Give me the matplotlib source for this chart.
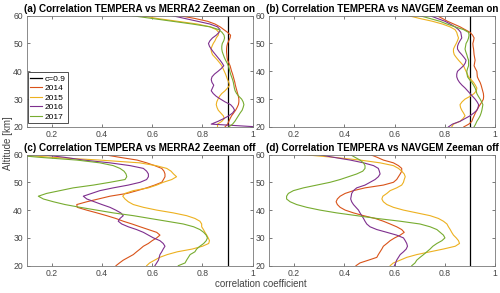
import numpy as np
import matplotlib
matplotlib.use("Agg")
import matplotlib.pyplot as plt

plt.rcParams['font.family'] = ['Liberation Sans', 'DejaVu Sans']

altitude = list(range(60, 19, -1))  # km, 60 -> 20
years = ['2014', '2015', '2016', '2017']
colors = ['#D95319', '#EDB120', '#7E2F8E', '#77AC30']
threshold = 0.9

# (a) TEMPERA vs MERRA2, Zeeman on
a_2014 = [0.71,0.77,0.82,0.85,0.87,0.885,0.90,0.912,0.91,0.905,0.90,0.897,0.896,0.896,0.897,0.898,0.90,0.905,0.91,0.913,0.916,0.92,0.923,0.926,0.929,0.931,0.934,0.937,0.940,0.943,0.945,0.945,0.943,0.938,0.932,0.924,0.916,0.91,0.905,0.90,0.89]
a_2015 = [0.56,0.62,0.70,0.78,0.83,0.855,0.865,0.863,0.855,0.85,0.843,0.838,0.834,0.836,0.84,0.85,0.86,0.869,0.877,0.882,0.887,0.892,0.896,0.90,0.905,0.908,0.90,0.89,0.877,0.868,0.862,0.857,0.855,0.858,0.863,0.873,0.883,0.887,0.877,0.86,0.86]
a_2016 = [0.68,0.73,0.78,0.83,0.86,0.87,0.866,0.855,0.84,0.83,0.824,0.828,0.835,0.843,0.852,0.861,0.870,0.878,0.885,0.875,0.862,0.848,0.838,0.835,0.838,0.845,0.84,0.835,0.843,0.855,0.872,0.89,0.912,0.922,0.928,0.92,0.905,0.885,0.862,0.835,1.02]
a_2017 = [0.52,0.60,0.68,0.76,0.83,0.865,0.878,0.886,0.888,0.885,0.879,0.877,0.877,0.879,0.883,0.887,0.892,0.898,0.903,0.906,0.909,0.912,0.916,0.92,0.923,0.925,0.927,0.93,0.936,0.945,0.956,0.962,0.965,0.962,0.958,0.95,0.943,0.936,0.929,0.92,0.905]

# (b) TEMPERA vs NAVGEM, Zeeman on
b_2014 = [0.768,0.79,0.81,0.835,0.86,0.88,0.90,0.91,0.916,0.914,0.911,0.912,0.914,0.915,0.916,0.918,0.92,0.918,0.916,0.921,0.927,0.928,0.929,0.934,0.94,0.944,0.947,0.95,0.953,0.954,0.953,0.947,0.94,0.933,0.927,0.921,0.916,0.911,0.907,0.895,0.875]
b_2015 = [0.655,0.70,0.75,0.79,0.82,0.84,0.847,0.85,0.854,0.85,0.845,0.839,0.834,0.834,0.837,0.845,0.854,0.864,0.874,0.879,0.884,0.889,0.894,0.904,0.914,0.921,0.927,0.925,0.916,0.90,0.88,0.868,0.86,0.862,0.867,0.874,0.88,0.872,0.86,0.834,0.827]
b_2016 = [0.741,0.77,0.80,0.821,0.84,0.854,0.863,0.865,0.867,0.86,0.854,0.85,0.85,0.857,0.867,0.876,0.884,0.881,0.874,0.862,0.85,0.847,0.847,0.851,0.858,0.868,0.88,0.89,0.90,0.91,0.92,0.928,0.934,0.932,0.927,0.915,0.90,0.88,0.86,0.83,0.814]
b_2017 = [0.70,0.74,0.78,0.808,0.84,0.874,0.894,0.896,0.894,0.89,0.884,0.882,0.88,0.883,0.887,0.89,0.894,0.894,0.894,0.89,0.887,0.888,0.89,0.898,0.907,0.914,0.92,0.924,0.927,0.933,0.94,0.946,0.951,0.949,0.947,0.944,0.94,0.934,0.927,0.922,0.916]

# (c) TEMPERA vs MERRA2, Zeeman off
c_2014 = [0.405,0.47,0.54,0.578,0.61,0.638,0.647,0.651,0.651,0.645,0.638,0.61,0.578,0.54,0.50,0.432,0.386,0.34,0.30,0.302,0.339,0.38,0.419,0.455,0.485,0.52,0.552,0.585,0.618,0.631,0.618,0.60,0.585,0.565,0.552,0.538,0.525,0.505,0.485,0.47,0.456]
c_2015 = [0.05,0.20,0.39,0.55,0.615,0.658,0.675,0.685,0.697,0.678,0.644,0.618,0.585,0.525,0.492,0.483,0.492,0.505,0.525,0.565,0.618,0.684,0.737,0.77,0.79,0.797,0.797,0.804,0.81,0.817,0.823,0.828,0.825,0.80,0.76,0.70,0.66,0.63,0.61,0.59,0.578]
c_2016 = [0.154,0.25,0.326,0.432,0.512,0.565,0.578,0.585,0.585,0.578,0.552,0.505,0.445,0.392,0.359,0.326,0.34,0.37,0.40,0.432,0.455,0.475,0.485,0.472,0.465,0.479,0.505,0.538,0.565,0.585,0.605,0.631,0.644,0.651,0.644,0.638,0.631,0.628,0.625,0.618,0.611]
c_2017 = [0.03,0.15,0.30,0.392,0.445,0.472,0.488,0.496,0.499,0.492,0.432,0.366,0.286,0.233,0.18,0.147,0.167,0.207,0.253,0.313,0.379,0.445,0.525,0.591,0.658,0.724,0.765,0.79,0.805,0.815,0.82,0.815,0.805,0.79,0.777,0.77,0.751,0.744,0.737,0.731,0.704]

# (d) TEMPERA vs NAVGEM, Zeeman off
d_2014 = [0.502,0.53,0.555,0.595,0.615,0.628,0.628,0.622,0.615,0.608,0.595,0.555,0.482,0.436,0.403,0.383,0.372,0.367,0.372,0.383,0.403,0.436,0.476,0.522,0.555,0.582,0.608,0.628,0.638,0.622,0.60,0.582,0.569,0.555,0.549,0.542,0.535,0.529,0.496,0.462,0.446]
d_2015 = [0.23,0.356,0.462,0.542,0.595,0.615,0.628,0.638,0.642,0.638,0.635,0.628,0.608,0.582,0.569,0.553,0.549,0.555,0.569,0.595,0.635,0.688,0.741,0.774,0.794,0.808,0.814,0.821,0.827,0.834,0.845,0.854,0.858,0.841,0.794,0.741,0.688,0.648,0.622,0.595,0.582]
d_2016 = [0.296,0.356,0.423,0.476,0.516,0.535,0.539,0.542,0.535,0.522,0.502,0.482,0.449,0.436,0.429,0.427,0.425,0.429,0.436,0.446,0.456,0.462,0.469,0.476,0.482,0.489,0.502,0.529,0.569,0.608,0.635,0.642,0.648,0.651,0.646,0.635,0.622,0.615,0.608,0.604,0.599]
d_2017 = [0.423,0.442,0.462,0.476,0.482,0.482,0.473,0.449,0.416,0.383,0.343,0.29,0.237,0.197,0.177,0.17,0.17,0.184,0.21,0.25,0.303,0.369,0.449,0.529,0.622,0.701,0.741,0.768,0.781,0.794,0.80,0.788,0.768,0.752,0.741,0.728,0.715,0.701,0.688,0.681,0.668]

titles = ['(a) Correlation TEMPERA vs MERRA2 Zeeman on',
          '(b) Correlation TEMPERA vs NAVGEM Zeeman on',
          '(c) Correlation TEMPERA vs MERRA2 Zeeman off',
          '(d) Correlation TEMPERA vs NAVGEM Zeeman off']
panels = [[a_2014, a_2015, a_2016, a_2017],
          [b_2014, b_2015, b_2016, b_2017],
          [c_2014, c_2015, c_2016, c_2017],
          [d_2014, d_2015, d_2016, d_2017]]
xticks = [0.2, 0.4, 0.6, 0.8, 1.0]
xticklabels = ['0.2', '0.4', '0.6', '0.8', '1']
yticks = [20, 30, 40, 50, 60]

W, H = 500, 293
fig = plt.figure(figsize=(W / 100, H / 100), dpi=100)
boxes = [(26.5, 15.7), (269, 15.7), (26.5, 154.5), (269, 154.5)]
aw, ah = 226.2, 111.2
for i, (bx, by) in enumerate(boxes):
    ax = fig.add_axes([bx / W, 1 - (by + ah) / H, aw / W, ah / H])
    ax.plot([threshold, threshold], [20, 60], color='black', lw=0.9, label='c=0.9')
    for vals, col, yr in zip(panels[i], colors, years):
        ax.plot(vals, altitude, color=col, lw=0.8, label=yr)
    ax.set_xlim(0.1, 1.0)
    ax.set_ylim(20, 60)
    ax.set_xticks(xticks)
    ax.set_xticklabels(xticklabels)
    ax.set_yticks(yticks)
    ax.tick_params(direction='in', length=2.5, width=0.5, colors='#444444',
                   labelsize=6.2, top=True, right=True, pad=2.5)
    for s in ax.spines.values():
        s.set_color('#777777')
        s.set_linewidth(0.6)
    ax.set_title(titles[i], fontsize=7.1, fontweight='bold', pad=2.5, color='black')
    if i == 0:
        leg = ax.legend(loc='lower left', bbox_to_anchor=(0.006, 0.035), fontsize=6,
                        handlelength=1.4, handletextpad=0.3, borderpad=0.3,
                        labelspacing=0.2, borderaxespad=0.0, fancybox=False,
                        framealpha=1)
        leg.get_frame().set_edgecolor('#333333')
        leg.get_frame().set_linewidth(0.6)

fig.text(8 / W, 1 - 143 / H, 'Altitude [km]', rotation=90, ha='center', va='center',
         fontsize=7, color='#444444')
fig.text(261 / W, 1 - 284 / H, 'correlation coefficient', ha='center', va='center',
         fontsize=7, color='#444444')

fig.savefig('out.png', dpi=100)
